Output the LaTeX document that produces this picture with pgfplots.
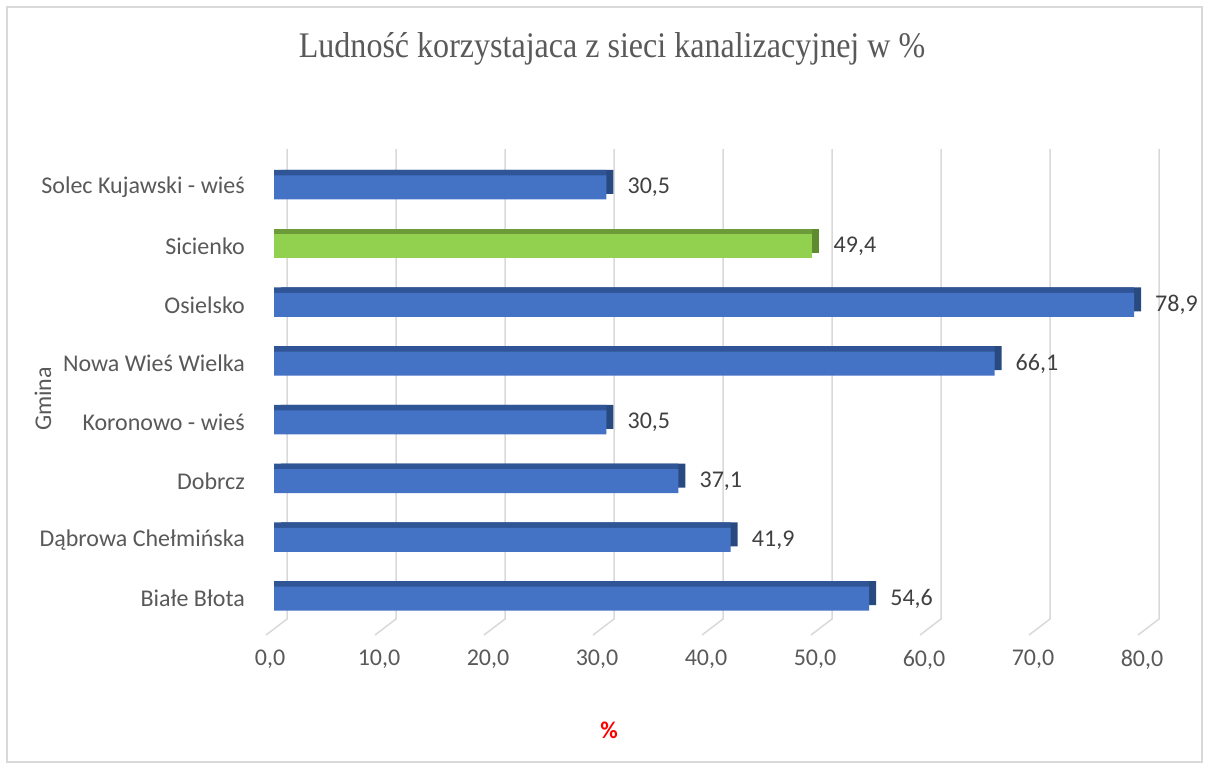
\documentclass[border=0pt]{standalone}
\usepackage{pgfplots}
\pgfplotsset{compat=1.18}
\usepackage{fontspec}
\setmainfont{Carlito}
\newfontfamily\titlefont{Liberation Serif}
\definecolor{barblue}{HTML}{4472C4}
\definecolor{bardark}{HTML}{2F5597}
\definecolor{barside}{HTML}{294A80}
\definecolor{bargreen}{HTML}{92D050}
\definecolor{greendark}{HTML}{6E9B3A}
\definecolor{greenside}{HTML}{5E8A30}
\definecolor{gridc}{HTML}{D9D9D9}
\definecolor{txt}{HTML}{595959}
\definecolor{lbl}{HTML}{404040}
\begin{document}
\begin{tikzpicture}[x=1pt,y=1pt]
\path[use as bounding box] (0,0) rectangle (1206,769);
\draw[gridc, line width=1.2pt] (7,7) rectangle (1202,762);
\node[text=txt, inner sep=0pt] at (612, 720) {\titlefont\fontsize{36}{40}\selectfont\scalebox{0.89}[1]{Ludność korzystajaca z sieci kanalizacyjnej w \%}};
\node[rotate=90, text=txt, inner sep=0pt, font=\fontsize{24}{28}\selectfont] at (43, 370) {Gmina};
\node[text=red, inner sep=0pt, font=\bfseries\fontsize{24}{28}\selectfont] at (609, 39) {\%};
\begin{axis}[
 at={(274pt,141pt)}, anchor=south west,
 scale only axis, width=872pt, height=470pt,
 xmin=0, xmax=80, ymin=-0.5, ymax=7.5,
 axis line style={draw=none},
 major tick length=0pt,
 xtick={0,10,...,80},
 ytick={0,1,...,7},
 yticklabels={Białe Błota, Dąbrowa Chełmińska, Dobrcz, Koronowo - wieś, Nowa Wieś Wielka, Osielsko, Sicienko, Solec Kujawski - wieś},
 tick label style={font=\fontsize{24}{28}\selectfont, text=txt},
 /pgf/number format/.cd, use comma, fixed, fixed zerofill, precision=1, assume math mode=true, /pgfplots/.cd,
 xticklabel style={anchor=north, inner sep=0pt, yshift=-22pt, xshift=-4pt},
 yticklabel style={anchor=east, inner sep=0pt, xshift=-29pt},
 xbar, bar width=24pt, bar shift=0pt,
 clip=false,
 nodes near coords style={anchor=west, inner sep=0pt, xshift=21pt, text=lbl, font=\fontsize{24}{28}\selectfont},
]
\pgfplotsinvokeforeach{0,10,20,30,40,50,60,70,80}{
  \draw[gridc, line width=1.5pt] ([xshift=-8pt,yshift=-7pt]axis cs:#1,-0.5) -- ([xshift=13pt,yshift=9pt]axis cs:#1,-0.5) -- ([xshift=13pt,yshift=9pt]axis cs:#1,7.5);
}
% side faces
\addplot[fill=barside, draw=none, xshift=7pt, yshift=5.5pt] coordinates {(54.6,0) (41.9,1) (37.1,2) (30.5,3) (66.1,4) (78.9,5) (30.5,7)};
\addplot[fill=greenside, draw=none, xshift=7pt, yshift=5.5pt] coordinates {(49.4,6)};
% top faces
\addplot[fill=bardark, draw=none, yshift=5.5pt] coordinates {(54.6,0) (41.9,1) (37.1,2) (30.5,3) (66.1,4) (78.9,5) (30.5,7)};
\addplot[fill=greendark, draw=none, yshift=5.5pt] coordinates {(49.4,6)};
% front faces
\addplot[fill=barblue, draw=none, nodes near coords, point meta=x] coordinates {(54.6,0) (41.9,1) (37.1,2) (30.5,3) (66.1,4) (78.9,5) (30.5,7)};
\addplot[fill=bargreen, draw=none, nodes near coords, point meta=x] coordinates {(49.4,6)};
\end{axis}
\end{tikzpicture}
\end{document}
